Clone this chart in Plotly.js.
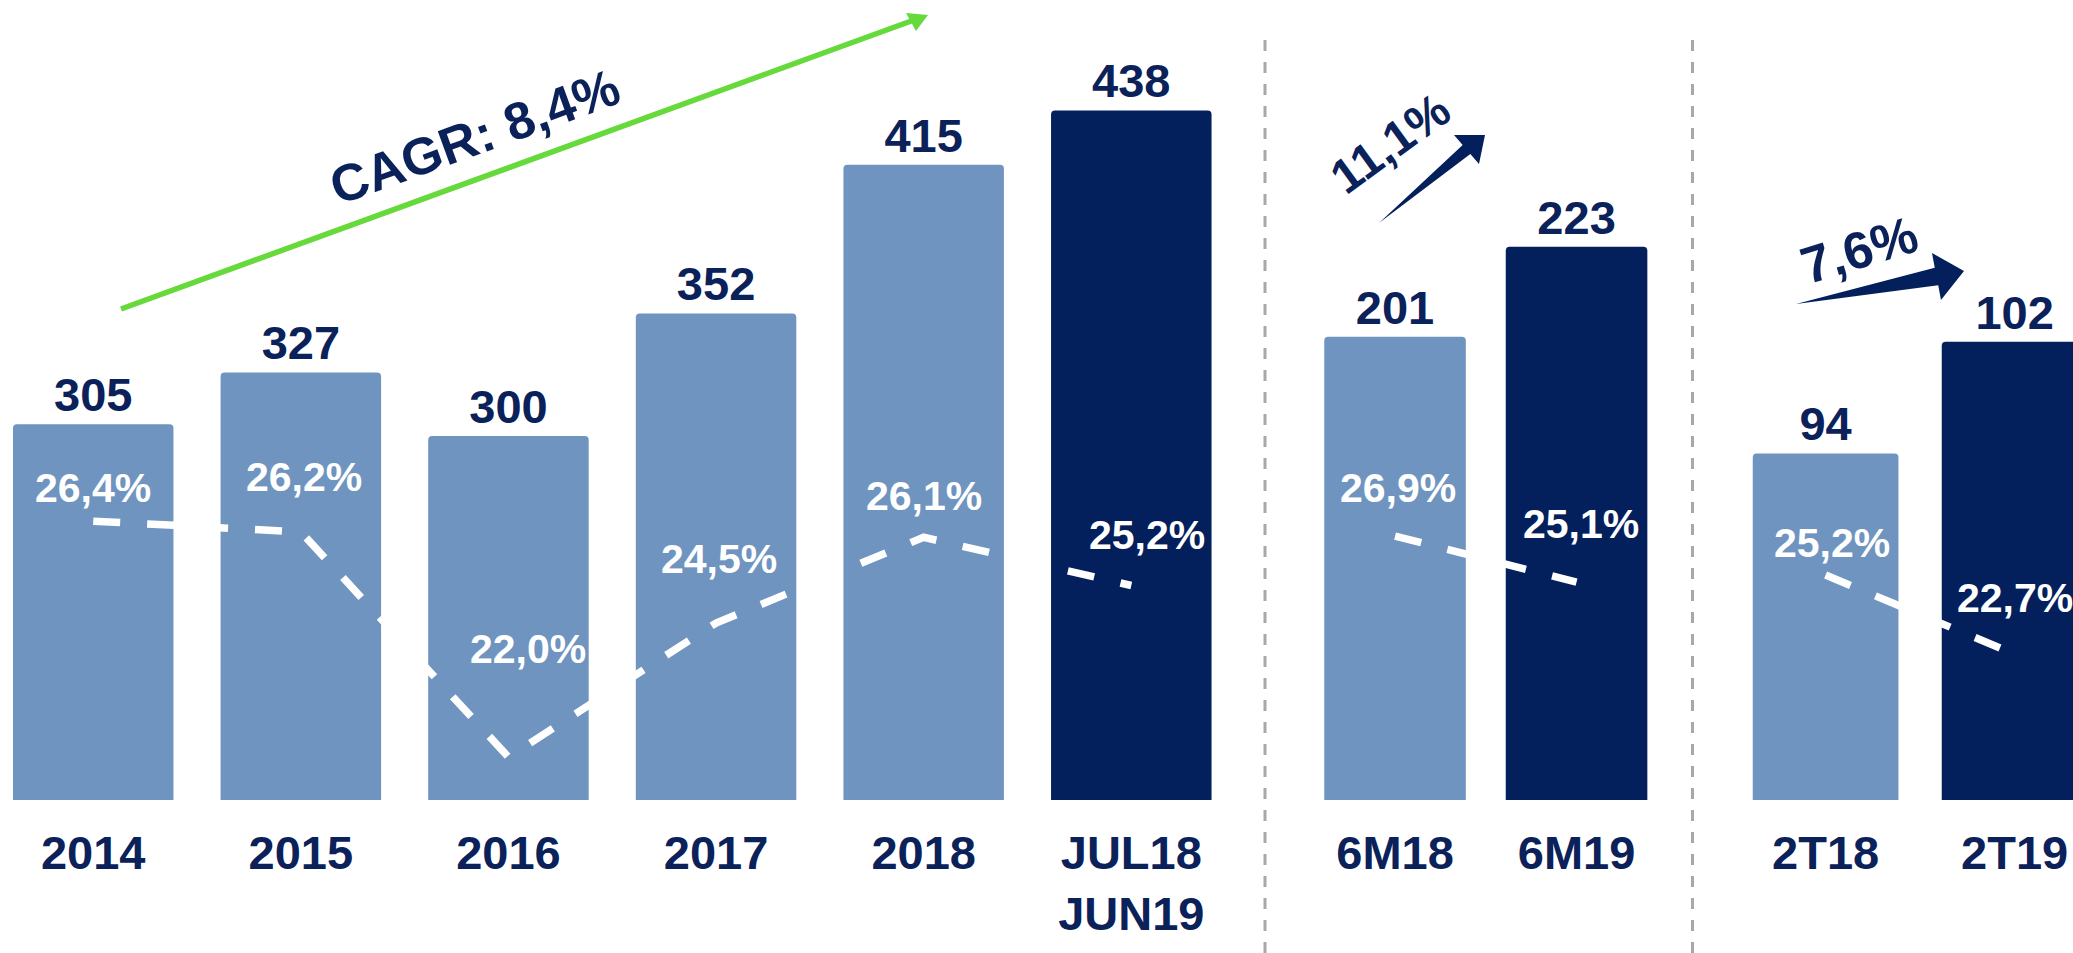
<!DOCTYPE html>
<html>
<head>
<meta charset="utf-8">
<script src="https://cdn.plot.ly/plotly-3.0.1.min.js"></script>
<style>
  html, body { margin: 0; padding: 0; background: #ffffff; }
  #chart { width: 2073px; height: 953px; }
</style>
</head>
<body>
<div id="chart"></div>
<script>
// ---------- data ----------
const yearCats   = ['2014', '2015', '2016', '2017', '2018', 'JUL18<br>JUN19'];
const yearValues = [305, 327, 300, 352, 415, 438];
const yearMargin = [26.4, 26.2, 22.0, 24.5, 26.1, 25.2];

const semCats    = ['6M18', '6M19'];
const semValues  = [201, 223];
const semMargin  = [26.9, 25.1];

const qCats      = ['2T18', '2T19'];
const qValues    = [94, 102];
const qMargin    = [25.2, 22.7];

const cagrText   = 'CAGR: 8,4%';
const semGrowth  = '11,1%';
const qGrowth    = '7,6%';

// ---------- style ----------
const W = 2073, PH = 800;
const LIGHT = '#6F94BF', DARK = '#03205C', NAVY = '#0A2159', GREEN = '#66D93B', GRAY = '#A8A8A8';
const FONT = 'Liberation Sans, Arial, sans-serif';
const fmtPct = v => v.toFixed(1).replace('.', ',') + '%';
const px = x => x / W;
const py = y => 1 - y / PH;

// label offsets (pixels) for the margin labels, per section
const shift1 = [[0, 33], [3, 55], [20, 108], [3, 64], [0, 41], [16, 51]];
const shift2 = [[3, 48], [4, 58]];
const shift3 = [[6, 32], [0, 56]];

const sep1 = 1265, sep2 = 1692.5;

function barTrace(cats, vals, colors, xa, ya, width) {
  return {
    type: 'bar', x: cats, y: vals, xaxis: xa, yaxis: ya,
    marker: { color: colors, line: { width: 0 }, cornerradius: 4 },
    width: width,
    text: vals.map(String), textposition: 'outside', constraintext: 'none',
    textfont: { family: FONT, size: 47, color: NAVY, weight: 'bold' },
    hoverinfo: 'skip', showlegend: false
  };
}
function lineTrace(cats, vals, xa, ya) {
  return {
    type: 'scatter', mode: 'lines', x: cats, y: vals, xaxis: xa, yaxis: ya,
    line: { color: '#ffffff', width: 7.5, dash: '27px,27px' },
    hoverinfo: 'skip', showlegend: false
  };
}
function pctAnnots(cats, vals, xa, ya, shifts) {
  return cats.map((c, i) => ({
    x: i, y: vals[i], xref: xa, yref: ya, xanchor: 'center', yanchor: 'middle',
    text: fmtPct(vals[i]), showarrow: false,
    xshift: shifts[i][0], yshift: shifts[i][1],
    font: { family: FONT, size: 41, color: '#ffffff', weight: 'bold' }
  }));
}

const data = [
  barTrace(yearCats, yearValues, yearCats.map((c, i) => i === yearCats.length - 1 ? DARK : LIGHT), 'x', 'y', 0.773),
  lineTrace(yearCats, yearMargin, 'x', 'y2'),
  barTrace(semCats, semValues, [LIGHT, DARK], 'x2', 'y3', 0.78),
  lineTrace(semCats, semMargin, 'x2', 'y4'),
  barTrace(qCats, qValues, [LIGHT, DARK], 'x3', 'y5', 0.771),
  lineTrace(qCats, qMargin, 'x3', 'y6')
];

const xBase = {
  type: 'category', showgrid: false, zeroline: false, showline: false,
  ticks: '', ticklabelstandoff: 21, fixedrange: true,
  tickfont: { family: FONT, size: 47, color: NAVY, weight: 'bold' }
};
const yBase = { visible: false, showgrid: false, zeroline: false, fixedrange: true };

// tapered arrow path (decoration)
function taperArrow(tail, tip, h1, h2, halfNeck) {
  const mx = (h1[0] + h2[0]) / 2, my = (h1[1] + h2[1]) / 2;
  const dx = tip[0] - tail[0], dy = tip[1] - tail[1];
  const L = Math.hypot(dx, dy);
  const nx = -dy / L, ny = dx / L;
  const n1 = [mx - nx * halfNeck, my - ny * halfNeck];
  const n2 = [mx + nx * halfNeck, my + ny * halfNeck];
  const d1 = Math.hypot(n1[0] - h1[0], n1[1] - h1[1]);
  const d2 = Math.hypot(n2[0] - h1[0], n2[1] - h1[1]);
  const a = d1 < d2 ? n1 : n2, b = d1 < d2 ? n2 : n1;
  const pts = [tail, a, h1, tip, h2, b];
  return 'M' + pts.map(p => px(p[0]).toFixed(5) + ',' + py(p[1]).toFixed(5)).join(' L') + ' Z';
}

const shapes = [
  { type: 'line', xref: 'paper', yref: 'paper', x0: px(sep1), x1: px(sep1), y0: py(953), y1: py(33),
    line: { color: GRAY, width: 3, dash: '11px,11px' } },
  { type: 'line', xref: 'paper', yref: 'paper', x0: px(sep2), x1: px(sep2), y0: py(953), y1: py(33),
    line: { color: GRAY, width: 3, dash: '11px,11px' } },
  { type: 'line', xref: 'paper', yref: 'paper', x0: px(121), y0: py(309), x1: px(914), y1: py(20),
    line: { color: GREEN, width: 5.5 } },
  { type: 'path', xref: 'paper', yref: 'paper', fillcolor: GREEN, line: { width: 0 },
    path: 'M' + [[928, 15], [906, 13], [916, 31]].map(p => px(p[0]).toFixed(5) + ',' + py(p[1]).toFixed(5)).join(' L') + ' Z' },
  { type: 'path', xref: 'paper', yref: 'paper', fillcolor: DARK, line: { width: 0 },
    path: taperArrow([1379, 223], [1485, 135], [1454, 135], [1479, 164], 6) },
  { type: 'path', xref: 'paper', yref: 'paper', fillcolor: DARK, line: { width: 0 },
    path: taperArrow([1796, 304], [1964, 271], [1932, 253], [1941, 300], 9) }
];

const growthAnnot = (x, y, text, angle, size) => ({
  xref: 'paper', yref: 'paper', x: px(x), y: py(y), xanchor: 'center', yanchor: 'middle',
  text: text, showarrow: false, textangle: angle,
  font: { family: FONT, size: size, color: NAVY, weight: 'bold' }
});

const annotations = []
  .concat(pctAnnots(yearCats, yearMargin, 'x', 'y2', shift1))
  .concat(pctAnnots(semCats, semMargin, 'x2', 'y4', shift2))
  .concat(pctAnnots(qCats, qMargin, 'x3', 'y6', shift3))
  .concat([
    growthAnnot(474, 137, cagrText, -20, 52),
    growthAnnot(1390, 144, semGrowth, -36, 48),
    growthAnnot(1859, 250, qGrowth, -17, 52)
  ]);

const layout = {
  width: 2073, height: 953,
  margin: { l: 0, r: 0, t: 0, b: 153, pad: 0 },
  paper_bgcolor: '#ffffff', plot_bgcolor: 'rgba(0,0,0,0)',
  showlegend: false, bargap: 0.2,
  xaxis:  Object.assign({}, xBase, { domain: [0, px(sep1)], anchor: 'y', range: [-0.449, 5.644] }),
  xaxis2: Object.assign({}, xBase, { domain: [px(sep1), px(sep2)], anchor: 'y3', range: [-0.7164, 1.6388] }),
  xaxis3: Object.assign({}, xBase, { domain: [px(sep2), 1], anchor: 'y5', range: [-0.7042, 1.309] }),
  yaxis:  Object.assign({}, yBase, { domain: [0, 1], anchor: 'x', range: [145.8, 484.8] }),
  yaxis2: Object.assign({}, yBase, { overlaying: 'y', anchor: 'x', range: [21.2, 36.12] }),
  yaxis3: Object.assign({}, yBase, { domain: [0, 1], anchor: 'x2', range: [87.75, 283.3] }),
  yaxis4: Object.assign({}, yBase, { overlaying: 'y3', anchor: 'x2', range: [16.59, 47.84] }),
  yaxis5: Object.assign({}, yBase, { domain: [0, 1], anchor: 'x3', range: [69.21, 126.44] }),
  yaxis6: Object.assign({}, yBase, { overlaying: 'y5', anchor: 'x3', range: [18.08, 43.4] }),
  shapes: shapes,
  annotations: annotations
};

Plotly.newPlot('chart', data, layout, { staticPlot: true, displayModeBar: false });
</script>
</body>
</html>
